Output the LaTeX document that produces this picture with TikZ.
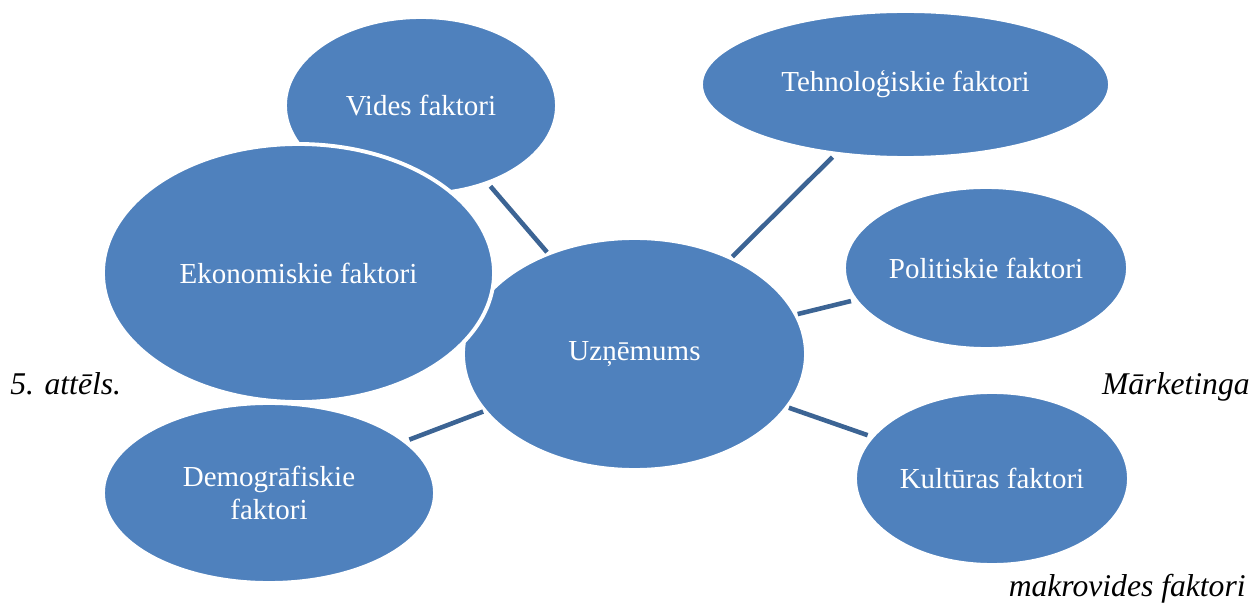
\documentclass[tikz,border=0pt]{standalone}
\usepackage{fontspec}
\setmainfont{Liberation Serif}
\usetikzlibrary{shapes.geometric}
\definecolor{ovalblue}{RGB}{79,129,189}
\definecolor{linkblue}{RGB}{60,100,148}

\begin{document}
\begin{tikzpicture}[
  oval/.style={ellipse, fill=ovalblue, draw=white, line width=2.2pt, inner sep=0pt,
    text=white, align=center, font=\fontsize{16.5}{19}\selectfont},
  link/.style={linkblue, line width=2.6pt, shorten <=0pt, shorten >=1.5pt},
  caption/.style={inner sep=0pt, font=\fontsize{18}{21}\selectfont\itshape}]
\useasboundingbox (0,0) rectangle (25.08,12.06);
% factors round the firm
\node [oval, minimum width=5.44cm, minimum height=3.54cm] (vides) at (8.42,9.95) {Vides faktori};
\node [oval, minimum width=8.18cm, minimum height=2.94cm] (tehn) at (18.11,10.37) {Tehnoloģiskie faktori};
\node [oval, minimum width=5.68cm, minimum height=3.24cm] (polit) at (19.72,6.70) {Politiskie faktori};
\node [oval, minimum width=5.48cm, minimum height=3.46cm] (kult) at (19.84,2.49) {Kultūras faktori};
\node [oval, minimum width=6.64cm, minimum height=3.60cm] (demo) at (5.38,2.20) {Demogrāfiskie\\faktori};
\node [oval, minimum width=6.86cm, minimum height=4.64cm] (uzn) at (12.69,4.98) {Uzņēmums};
\node [oval, minimum width=7.82cm, minimum height=5.16cm] (ekon) at (5.97,6.60) {Ekonomiskie faktori};
% links
\draw [link] (uzn) -- (vides);
\draw [link] (uzn) -- (tehn);
\draw [link] (uzn) -- (polit);
\draw [link] (uzn) -- (kult);
\draw [link] (uzn) -- (demo);
% caption
\node [caption, anchor=base west] (nr) at (0.2,4.16) {5. attēls.};
\node [caption, anchor=base east] (mark) at (25.0,4.16) {Mārketinga};
\node [caption, anchor=base east] (makro) at (24.92,0.14) {makrovides faktori};
\end{tikzpicture}
\end{document}
